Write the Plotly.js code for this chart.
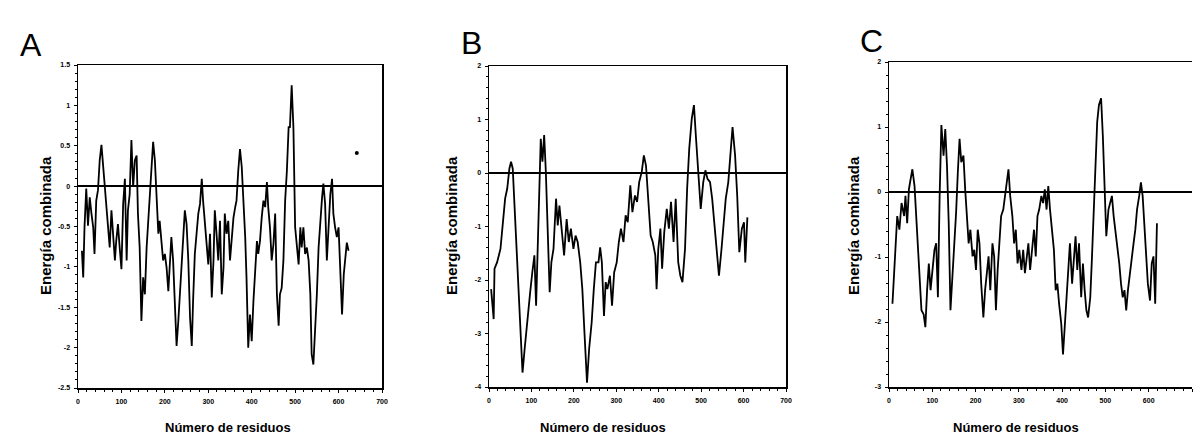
<!DOCTYPE html>
<html>
<head>
<meta charset="utf-8">
<script src="https://cdn.plot.ly/plotly-3.0.1.min.js"></script>
<style>html,body{margin:0;padding:0;background:#fff;}#chart{width:1195px;height:441px;}</style>
</head>
<body>
<div id="chart"></div>
<script>
// Panel A
const residuesA = [9,12,15,19,23,27,31,35,38,42,
  46,50,54,58,62,65,69,73,77,81,
  85,88,92,96,100,104,108,112,115,119,
  123,127,131,135,138,142,146,150,154,158,
  162,165,169,173,177,181,185,188,192,196,
  200,204,208,212,215,219,223,227,231,235,
  238,242,246,250,254,258,262,265,269,273,
  277,281,285,288,292,296,300,304,308,312,
  315,319,323,327,331,335,338,342,346,350,
  354,358,362,365,369,373,377,381,385,388,
  392,396,400,404,408,412,415,419,423,427,
  431,435,438,442,446,450,454,458,462,465,
  469,473,477,481,485,488,492,496,500,504,
  508,512,515,519,523,527,531,535,538,542,
  546,550,554,558,562,565,569,573,577,581,
  585,588,592,596,600,604,608,612,615,619,
  623];
const energyA = [-0.80,-1.13,-0.51,-0.03,-0.49,-0.14,-0.34,-0.51,-0.84,-0.18,
  -0.05,0.32,0.51,0.24,-0.05,-0.22,-0.55,-0.76,-0.30,-0.59,
  -0.92,-0.68,-0.47,-0.76,-1.03,-0.22,0.09,-0.92,-0.30,-0.10,
  0.57,-0.01,0.32,0.38,-0.34,-0.76,-1.67,-1.13,-1.34,-0.76,
  -0.43,-0.10,0.19,0.55,0.32,-0.10,-0.59,-0.43,-0.68,-0.92,
  -0.84,-1.01,-1.30,-0.88,-0.63,-0.92,-1.55,-1.98,-1.67,-1.34,
  -1.09,-0.63,-0.30,-0.47,-0.92,-1.63,-1.98,-1.42,-0.84,-0.59,
  -0.34,-0.22,0.09,-0.18,-0.43,-0.76,-0.97,-0.59,-1.38,-0.92,
  -0.30,-0.59,-0.92,-0.43,-1.34,-1.01,-0.34,-0.59,-0.43,-0.92,
  -0.59,-0.39,-0.26,-0.18,0.19,0.46,0.24,-0.14,-0.63,-1.13,
  -2.00,-1.59,-1.92,-1.42,-1.05,-0.68,-0.84,-0.68,-0.39,-0.18,
  -0.26,0.05,-0.26,-0.51,-0.92,-0.72,-0.34,-1.34,-1.73,-1.34,
  -1.26,-0.92,-0.18,0.19,0.73,0.73,1.25,0.73,-0.51,-0.76,
  -0.97,-0.51,-0.76,-0.51,-0.84,-0.76,-0.92,-1.34,-2.08,-2.21,
  -1.84,-1.34,-0.76,-0.39,-0.14,0.03,-0.22,-0.92,-0.43,-0.10,
  0.09,-0.34,-0.51,-0.63,-0.51,-1.01,-1.59,-1.09,-0.92,-0.70,
  -0.80];
const dotAx = [642];
const dotAy = [0.41];

// Panel B
const residuesB = [5,11,13,19,27,32,38,43,48,52,
  56,59,64,70,75,79,84,88,92,97,
  102,107,111,115,119,122,126,130,134,140,
  143,147,152,158,162,166,172,177,183,188,
  193,199,204,209,215,220,225,231,236,242,
  247,252,258,262,266,271,275,279,285,290,
  295,301,306,311,317,322,327,333,338,344,
  349,354,360,365,370,376,381,386,392,395,
  399,404,408,413,419,424,429,435,440,446,
  451,456,462,467,472,478,483,488,494,499,
  505,510,515,521,526,531,537,542,548,553,
  558,564,569,574,580,585,590,596,601,604,
  609];
const energyB = [-2.17,-2.73,-1.79,-1.67,-1.42,-0.92,-0.48,-0.29,0.08,0.21,
  0.08,-0.42,-1.29,-2.17,-2.92,-3.73,-3.29,-2.92,-2.54,-2.23,
  -1.86,-1.54,-2.48,-1.29,-0.42,0.64,0.21,0.71,0.02,-1.29,
  -2.23,-1.67,-1.42,-0.48,-0.98,-0.61,-1.17,-1.54,-0.86,-1.29,
  -1.04,-1.42,-1.17,-1.29,-1.67,-2.17,-2.98,-3.92,-3.29,-2.79,
  -2.17,-1.67,-1.67,-1.39,-1.67,-2.67,-2.04,-2.17,-1.92,-2.48,
  -1.86,-1.67,-1.29,-1.04,-1.29,-0.79,-0.92,-0.23,-0.73,-0.42,
  -0.54,-0.17,0.02,0.33,0.14,-0.54,-1.17,-1.29,-1.54,-2.17,
  -1.42,-1.04,-1.79,-1.11,-0.67,-1.04,-0.54,-1.29,-0.48,-1.67,
  -1.92,-2.04,-1.42,-0.29,0.46,1.02,1.27,0.64,-0.17,-0.67,
  -0.17,0.05,-0.11,-0.17,-0.48,-0.92,-1.54,-1.92,-1.42,-0.92,
  -0.48,-0.17,0.33,0.86,0.33,-0.42,-1.48,-1.04,-0.92,-1.67,
  -0.83];

// Panel C
const residuesC = [8,14,19,24,29,35,38,42,46,50,
  54,59,63,67,71,75,80,84,88,92,
  96,100,105,109,113,117,121,126,130,134,
  138,142,146,151,155,159,163,167,172,176,
  180,184,188,193,197,201,205,209,213,218,
  222,226,230,234,239,243,247,251,255,259,
  264,268,272,276,280,285,289,293,297,301,
  306,310,314,318,322,326,331,335,339,343,
  347,352,356,360,364,368,372,377,381,385,
  389,393,398,402,406,410,414,418,423,427,
  431,435,439,444,448,452,456,460,465,469,
  473,477,481,485,490,494,498,502,507,511,
  515,519,523,527,532,536,540,544,548,552,
  557,561,565,569,573,578,582,586,590,594,
  598,603,607,611,615,619];
const energyC = [-1.72,-0.99,-0.37,-0.58,-0.17,-0.37,-0.06,-0.48,0.04,0.20,
  0.35,0.09,-0.37,-0.99,-1.41,-1.82,-1.88,-2.08,-1.51,-1.10,
  -1.51,-1.20,-0.89,-0.79,-1.62,-0.06,1.03,0.56,0.97,0.40,
  -0.48,-1.82,-1.41,-0.79,-0.32,0.30,0.82,0.46,0.56,0.04,
  -0.37,-0.79,-0.58,-0.99,-0.89,-1.20,-0.58,-0.79,-1.41,-1.93,
  -1.51,-1.20,-0.99,-1.51,-0.79,-0.99,-1.82,-1.20,-0.79,-0.37,
  -0.27,-0.06,0.15,0.35,-0.06,-0.37,-0.79,-0.58,-1.10,-0.89,
  -1.20,-0.89,-1.25,-0.99,-0.79,-1.20,-0.89,-0.58,-0.99,-0.37,
  -0.27,-0.06,-0.17,0.04,-0.27,0.09,-0.27,-0.68,-0.89,-1.51,
  -1.41,-1.72,-2.03,-2.50,-2.03,-1.62,-1.20,-0.79,-1.41,-0.99,
  -0.68,-1.20,-0.79,-1.62,-1.10,-1.51,-1.82,-1.93,-1.62,-0.99,
  -0.37,0.35,1.08,1.34,1.44,0.87,0.04,-0.68,-0.27,-0.17,
  -0.06,-0.37,-0.58,-0.79,-1.10,-1.41,-1.62,-1.51,-1.82,-1.51,
  -1.20,-0.99,-0.79,-0.58,-0.27,-0.06,0.15,-0.06,-0.58,-0.99,
  -1.41,-1.67,-1.10,-0.99,-1.72,-0.48];

const xTicks = [0,100,200,300,400,500,600,700];
const yTicksA = [-2.5,-2,-1.5,-1,-0.5,0,0.5,1,1.5];
const yTicksB = [-4,-3,-2,-1,0,1,2];
const yTicksC = [-3,-2,-1,0,1,2];
const panelLetters = ['A','B','C'];
const yTitle = 'Energía combinada';
const xTitle = 'Número de residuos';

const W = 1195, H = 441;
const px = v => v / W;
const py = v => 1 - v / H;

const lineStyle = {color:'#000', width:1.8};
const traces = [
  {x:residuesA, y:energyA, xaxis:'x', yaxis:'y', mode:'lines', line:lineStyle, hoverinfo:'skip'},
  {x:dotAx, y:dotAy, xaxis:'x', yaxis:'y', mode:'markers', marker:{color:'#000', size:4}, hoverinfo:'skip'},
  {x:residuesB, y:energyB, xaxis:'x2', yaxis:'y2', mode:'lines', line:lineStyle, hoverinfo:'skip'},
  {x:residuesC, y:energyC, xaxis:'x3', yaxis:'y3', mode:'lines', line:lineStyle, hoverinfo:'skip'}
];

const tickFont = {family:'Liberation Sans, Arial, sans-serif', size:7, color:'#000', weight:'bold'};
function xAxis(dom, anchor, mirror){
  return {domain:dom, anchor:anchor, range:[0,700], tickvals:xTicks, ticktext:xTicks.map(String),
    showline:true, linecolor:'#000', linewidth:1.5, mirror:mirror, ticks:'outside', ticklen:3, tickwidth:1,
    tickcolor:'#000', showgrid:false, zeroline:false, tickfont:tickFont, ticklabelstandoff:3,
    minor:{dtick:20, tick0:0, ticks:'outside', ticklen:2, tickcolor:'#000', tickwidth:1, showgrid:false}};
}
function yAxis(dom, anchor, rng, tv, minorD, mirror){
  return {domain:dom, anchor:anchor, range:rng, tickvals:tv, ticktext:tv.map(String),
    showline:true, linecolor:'#000', linewidth:1.5, mirror:mirror, ticks:'outside', ticklen:3, tickwidth:1,
    tickcolor:'#000', showgrid:false, zeroline:true, zerolinecolor:'#000', zerolinewidth:1.5,
    tickfont:tickFont, ticklabelstandoff:2,
    minor:{dtick:minorD, ticks:'outside', ticklen:2, tickcolor:'#000', tickwidth:1, showgrid:false}};
}

function ann(text, x, y, size, bold, angle){
  return {text:text, x:px(x), y:py(y), xref:'paper', yref:'paper', xanchor:'center', yanchor:'middle',
    showarrow:false, textangle:angle || 0,
    font:{family:'Liberation Sans, Arial, sans-serif', size:size, color:'#000', weight: bold ? 'bold' : 'normal'}};
}

const layout = {
  width:W, height:H, margin:{l:0,r:0,t:0,b:0}, showlegend:false,
  paper_bgcolor:'#fff', plot_bgcolor:'#fff',
  xaxis: xAxis([px(78), px(382)], 'y', true),
  yaxis: yAxis([py(388), py(65)], 'x', [-2.5,1.5], yTicksA, 0.1, true),
  xaxis2: xAxis([px(489), px(786)], 'y2', true),
  yaxis2: yAxis([py(387), py(66)], 'x2', [-4,2], yTicksB, 0.2, true),
  xaxis3: xAxis([px(889), px(1192)], 'y3', true),
  yaxis3: yAxis([py(387), py(62)], 'x3', [-3,2], yTicksC, 0.2, false),
  annotations: [
    ann(panelLetters[0], 31, 45, 32, false),
    ann(panelLetters[1], 471, 43, 32, false),
    ann(panelLetters[2], 871, 41, 32, false),
    ann(yTitle, 45, 226, 15, true, -90),
    ann(yTitle, 451, 226, 15, true, -90),
    ann(yTitle, 853, 226, 15, true, -90),
    ann(xTitle, 228, 427, 13, true),
    ann(xTitle, 603, 427, 13, true),
    ann(xTitle, 1016, 427, 13, true)
  ]
};

Plotly.newPlot('chart', traces, layout, {staticPlot:true, displayModeBar:false});
</script>
</body>
</html>
